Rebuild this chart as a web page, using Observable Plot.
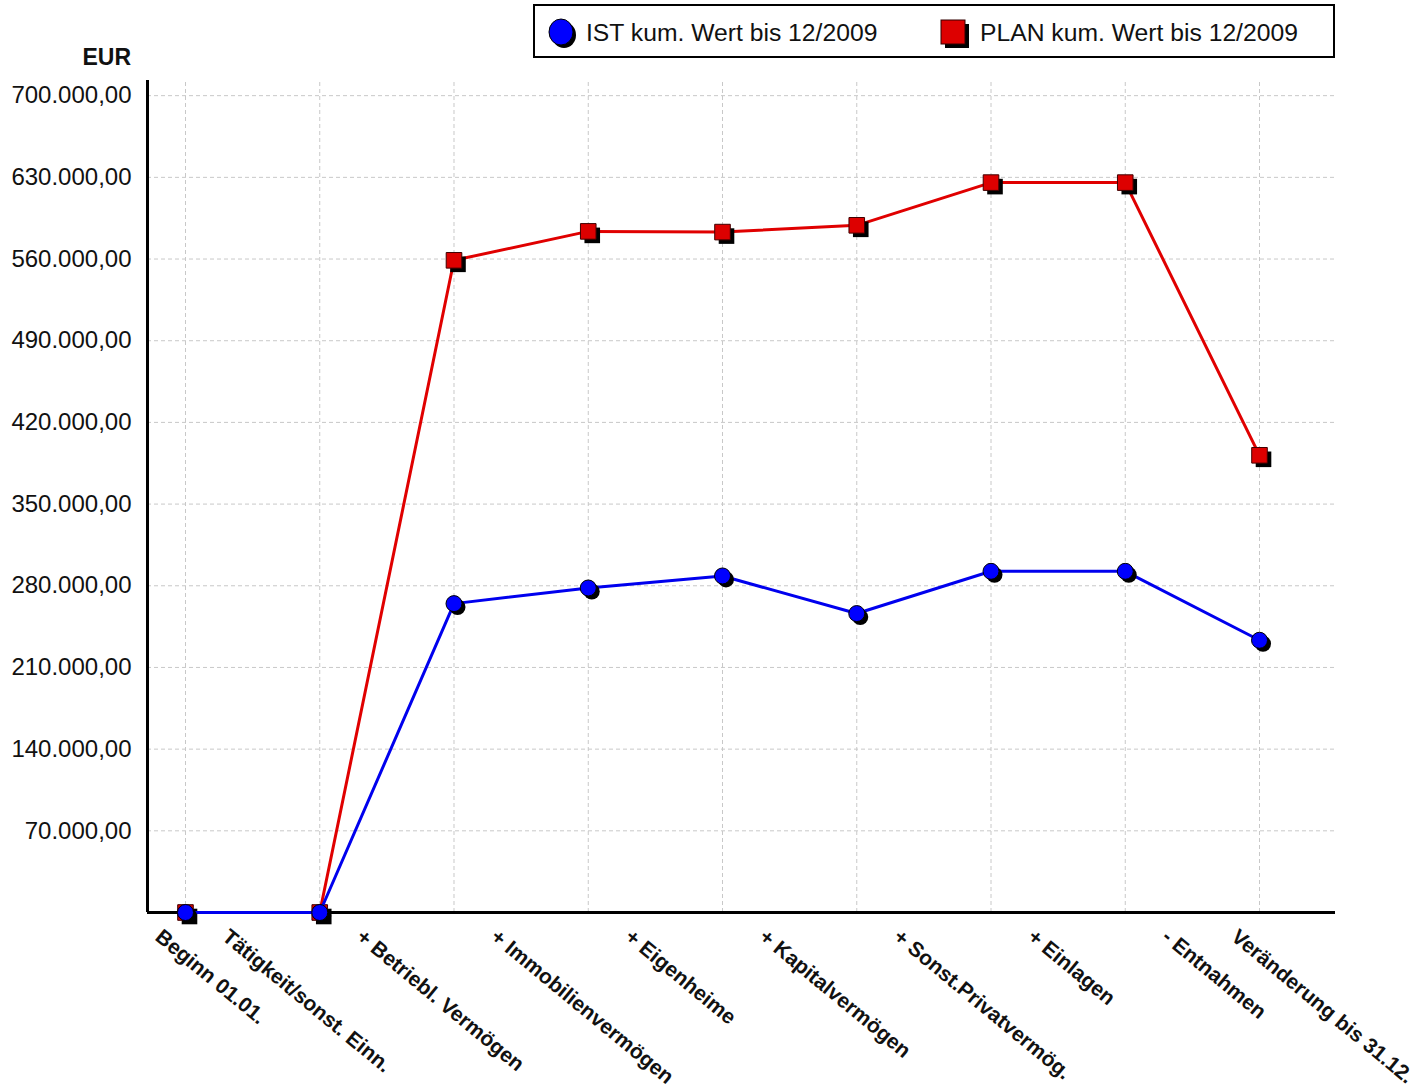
<!DOCTYPE html>
<html>
<head>
<meta charset="utf-8">
<script src="https://cdn.jsdelivr.net/npm/d3@7"></script>
<script src="https://cdn.jsdelivr.net/npm/@observablehq/plot@0.6"></script>
<style>
  html, body { margin: 0; padding: 0; background: #fff; }
  #wrap { position: relative; width: 1427px; height: 1088px; font-family: "Liberation Sans", Arial, sans-serif; }
  #legend { position: absolute; left: 533px; top: 4px; width: 798px; height: 50px; border: 2px solid #000; background: #fff; }
  .item { position: absolute; top: 2px; height: 50px; display: flex; align-items: center; font-size: 24.7px; color: #111; }
  #unit { position: absolute; left: 60px; width: 71px; text-align: right; top: 44px; font-size: 23px; font-weight: bold; color: #111; }
</style>
</head>
<body>
<div id="wrap">
  <div id="chart"></div>
  <div id="legend">
    <div class="item" style="left:11px">
      <svg width="34" height="34" style="margin-right:6px"><ellipse cx="18" cy="19" rx="12" ry="13" fill="#000"/><ellipse cx="15" cy="16" rx="12" ry="13" fill="#0000ff" stroke="#000" stroke-width="1"/></svg>
      <span id="lg0"></span>
    </div>
    <div class="item" style="left:403px">
      <svg width="34" height="34" style="margin-right:8px"><rect x="7" y="8" width="24" height="24" fill="#000"/><rect x="3" y="4" width="24" height="24" fill="#dd0000" stroke="#300" stroke-width="1"/></svg>
      <span id="lg1"></span>
    </div>
  </div>
  <div id="unit">EUR</div>
</div>
<script>
// ---- data ----
const seriesNames = ["IST kum. Wert bis 12/2009", "PLAN kum. Wert bis 12/2009"];
const categories = ["Beginn 01.01.", "Tätigkeit/sonst. Einn.", "+ Betriebl. Vermögen", "+ Immobilienvermögen", "+ Eigenheime", "+ Kapitalvermögen", "+ Sonst.Privatvermög.", "+ Einlagen", "- Entnahmen", "Veränderung bis 31.12."];
const labelSlot = [0, 0, 1, 2, 3, 4, 5, 6, 7, 8];
const istValues = [0, 0, 264700, 278100, 288400, 256200, 292400, 292400, 233300];
const planValues = [0, 0, 558900, 583700, 583100, 588900, 625500, 625500, 391800];
const yTicks = [70000, 140000, 210000, 280000, 350000, 420000, 490000, 560000, 630000, 700000];

document.getElementById("lg0").textContent = seriesNames[0];
document.getElementById("lg1").textContent = seriesNames[1];

const de = d3.formatLocale({decimal: ",", thousands: ".", grouping: [3], currency: ["", "€"]});
const fmt = de.format(",.2f");

const ist = istValues.map((v, i) => ({i, v}));
const plan = planValues.map((v, i) => ({i, v}));
const slots = istValues.map((v, i) => i);
const labels = categories.map((c, k) => ({c, slot: labelSlot[k], k}));
const n = categories.length;

const xDomain = [-0.283, 8.566];
const yDomain = [0, 713000];

const font = "Liberation Sans, Arial, sans-serif";
const labelOpts = {
  x: "slot", y: () => 0, text: "c", rotate: 39.5, textAnchor: "start", lineAnchor: "top",
  fontSize: 21, fontWeight: "bold", fill: "#111", dy: 15, fontFamily: font
};

const chart = Plot.plot({
  width: 1427,
  height: 1088,
  marginLeft: 147,
  marginRight: 92,
  marginTop: 80,
  marginBottom: 176,
  style: {fontFamily: font, background: "#fff"},
  x: {domain: xDomain, axis: null},
  y: {domain: yDomain, axis: null},
  marks: [
    Plot.gridY(yTicks, {stroke: "#c8c8c8", strokeOpacity: 1, strokeDasharray: "4,3", strokeWidth: 1}),
    Plot.ruleX(slots, {x: d => d, y1: 0, y2: yDomain[1], stroke: "#c8c8c8", strokeOpacity: 1, strokeDasharray: "4,3", strokeWidth: 1}),
    Plot.axisY(yTicks, {tickSize: 0, tickPadding: 16, tickFormat: fmt, fontSize: 24, fill: "#111", fontFamily: font, label: null}),
    Plot.ruleX([xDomain[0]], {y1: 0, y2: yDomain[1], stroke: "#000", strokeWidth: 3}),
    Plot.ruleY([0], {stroke: "#000", strokeWidth: 3}),
    // PLAN
    Plot.line(plan, {x: "i", y: "v", stroke: "#e00000", strokeWidth: 3}),
    Plot.dot(plan, {x: "i", y: "v", symbol: "square", r: 8.8, fill: "#000", dx: 4, dy: 4}),
    Plot.dot(plan, {x: "i", y: "v", symbol: "square", r: 8.8, fill: "#dd0000", stroke: "#400000", strokeWidth: 1}),
    // IST
    Plot.line(ist, {x: "i", y: "v", stroke: "#0000ee", strokeWidth: 3}),
    Plot.dot(ist, {x: "i", y: "v", r: 8, fill: "#000", dx: 3.5, dy: 3.5}),
    Plot.dot(ist, {x: "i", y: "v", r: 8, fill: "#0000ff", stroke: "#000", strokeWidth: 1}),
    // x labels
    Plot.text(labels.filter(d => d.k === 0), {...labelOpts, dx: -22}),
    Plot.text(labels.filter(d => d.k > 0 && d.k < n - 1), {...labelOpts, dx: 45}),
    Plot.text(labels.filter(d => d.k === n - 1), {...labelOpts, dx: -20})
  ]
});
document.getElementById("chart").appendChild(chart);
</script>
</body>
</html>
